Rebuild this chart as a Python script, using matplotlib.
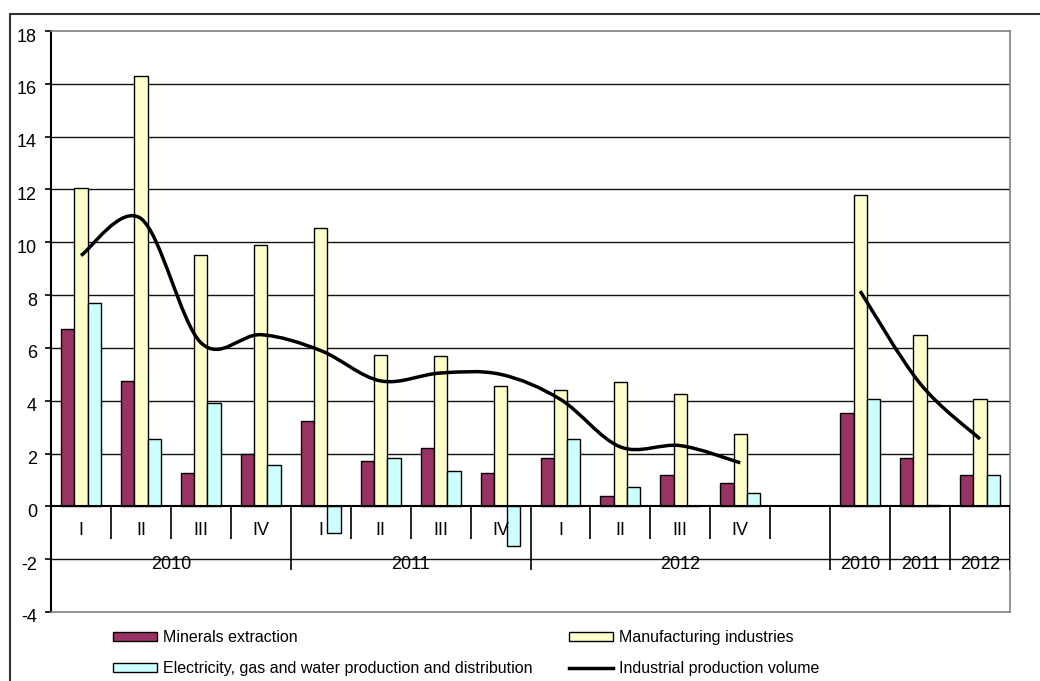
import numpy as np
import matplotlib
matplotlib.use("Agg")
import matplotlib.pyplot as plt
import matplotlib.transforms as mtrans
from matplotlib.path import Path
from matplotlib.patches import PathPatch, Rectangle, Patch
from matplotlib.lines import Line2D

plt.rcParams['font.family'] = ['Liberation Sans', 'DejaVu Sans']
plt.rcParams['axes.unicode_minus'] = False

# quarterly data (2010 I .. 2012 IV)
quarters = ["I", "II", "III", "IV"]
years = ["2010", "2011", "2012"]
minerals_q = [6.7, 4.75, 1.25, 2.0, 3.25, 1.7, 2.2, 1.25, 1.85, 0.4, 1.2, 0.9]
manuf_q = [12.05, 16.3, 9.5, 9.9, 10.55, 5.75, 5.7, 4.55, 4.4, 4.7, 4.25, 2.75]
elec_q = [7.7, 2.55, 3.9, 1.55, -1.0, 1.85, 1.35, -1.5, 2.55, 0.75, 0.0, 0.5]
volume_q = [9.5, 10.9, 6.2, 6.5, 5.9, 4.75, 5.05, 5.0, 4.05, 2.25, 2.3, 1.65]

# annual data
minerals_y = [3.55, 1.85, 1.2]
manuf_y = [11.8, 6.5, 4.05]
elec_y = [4.05, 0.05, 1.2]
volume_y = [8.15, 4.65, 2.55]

labels = ["Minerals extraction", "Electricity, gas and water production and distribution",
          "Manufacturing industries", "Industrial production volume"]
c_min, c_man, c_ele = "#993366", "#FFFFCC", "#CCFFFF"

# slot positions: 12 quarters, one blank slot, 3 years
xq = np.arange(len(minerals_q))
xy = np.arange(len(minerals_q) + 1, len(minerals_q) + 1 + len(minerals_y))
nslots = len(xq) + 1 + len(xy)


def smooth_path(x, y):
    pts = np.column_stack([x, y]).astype(float)
    n = len(pts)
    d = np.array([(pts[min(i + 1, n - 1)] - pts[max(i - 1, 0)]) / 2 for i in range(n)])
    verts = [pts[0]]
    codes = [Path.MOVETO]
    for i in range(n - 1):
        verts += [pts[i] + d[i] / 3, pts[i + 1] - d[i + 1] / 3, pts[i + 1]]
        codes += [Path.CURVE4] * 3
    return Path(verts, codes)


fig = plt.figure(figsize=(10.4, 6.81), dpi=100)
ax = fig.add_axes([51 / 1040, 1 - 612 / 681, 959 / 1040, 581 / 681])
ax.set_xlim(-0.5, nslots - 0.5)
ax.set_ylim(-4, 18)

# gridlines
for g in [-2, 2, 4, 6, 8, 10, 12, 14, 16]:
    ax.axhline(g, color="#111111", lw=1.0, zorder=1)

w = 0.222
for xs, mi, ma, el in [(xq, minerals_q, manuf_q, elec_q), (xy, minerals_y, manuf_y, elec_y)]:
    ax.bar(xs - w, mi, w, color=c_min, edgecolor="black", lw=1.0, zorder=2)
    ax.bar(xs, ma, w, color=c_man, edgecolor="black", lw=1.0, zorder=2)
    ax.bar(xs + w, el, w, color=c_ele, edgecolor="black", lw=1.0, zorder=2)

for xs, vs in [(xq, volume_q), (xy, volume_y)]:
    ax.add_patch(PathPatch(smooth_path(xs, vs), fill=False, edgecolor="black",
                           lw=2.5, zorder=3, capstyle="butt"))

# category axis at zero
ax.axhline(0, color="black", lw=1.5, zorder=4)
group_edges = [3.5, 7.5, 12.5] + [x + 0.5 for x in xy]
quarter_edges = [x + 0.5 for x in xq if (x + 0.5) not in group_edges]
ax.vlines(quarter_edges, -1.25, 0, color="black", lw=1.2, zorder=4)
ax.vlines(group_edges, -2.4, 0, color="black", lw=1.2, zorder=4)
fs = 13
for x in xq:
    ax.text(x, -0.9, quarters[x % 4], ha="center", va="center", fontsize=fs)
ax.text(1.5, -2.2, years[0], ha="center", va="center", fontsize=fs)
ax.text(5.5, -2.2, years[1], ha="center", va="center", fontsize=fs)
ax.text(10.0, -2.2, years[2], ha="center", va="center", fontsize=fs)
for x, yr in zip(xy, years):
    ax.text(x, -2.2, yr, ha="center", va="center", fontsize=fs)

ax.set_xticks([])
ax.set_yticks(np.arange(-4, 19, 2))
ax.tick_params(axis="y", direction="out", length=4, width=1.2, pad=6, labelsize=fs)
shift = mtrans.ScaledTranslation(0, -4 / 100, fig.dpi_scale_trans)
for lab in ax.get_yticklabels():
    lab.set_transform(lab.get_transform() + shift)
ax.spines["left"].set_linewidth(1.5)
for s in ["top", "right", "bottom"]:
    ax.spines[s].set_color("#808080")
    ax.spines[s].set_linewidth(1.2)

# outer chart border
fig.add_artist(Rectangle((10 / 1040, -0.2), 1.2, 1.2 - 14 / 681, transform=fig.transFigure,
                         fill=False, edgecolor="#333333", lw=1.5))

handles = [Patch(facecolor=c_min, edgecolor="black", lw=1.0),
           Patch(facecolor=c_ele, edgecolor="black", lw=1.0),
           Patch(facecolor=c_man, edgecolor="black", lw=1.0),
           Line2D([], [], color="black", lw=2.5)]
fig.legend(handles, labels, ncol=2, loc="upper left", bbox_to_anchor=(113 / 1040, 1 - 630 / 681),
           frameon=False, fontsize=11.5, handlelength=2.75, handleheight=0.5,
           handletextpad=0.4, columnspacing=2.25, labelspacing=1.0,
           borderpad=0, borderaxespad=0)

fig.savefig("out.png", dpi=100)
